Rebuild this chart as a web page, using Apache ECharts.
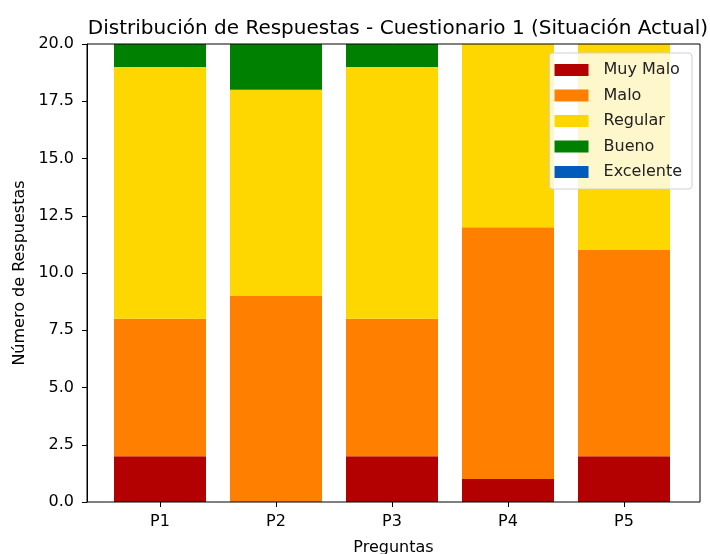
<!DOCTYPE html>
<html>
<head>
<meta charset="utf-8">
<script src="https://cdn.jsdelivr.net/npm/echarts@6/dist/echarts.min.js"></script>
<style>
  html, body { margin: 0; padding: 0; background: #fff; }
  #chart { width: 710px; height: 554px; }
</style>
</head>
<body>
<div id="chart"></div>
<script>
const categories = ['P1', 'P2', 'P3', 'P4', 'P5'];
const muyMalo = [2, 0, 2, 1, 2];
const malo = [6, 9, 6, 11, 9];
const regular = [11, 9, 11, 8, 9];
const bueno = [1, 2, 1, 0, 0];
const excelente = [0, 0, 0, 0, 0];

const font = 'DejaVu Sans';

const makeSeries = (name, values, color) => ({
  name,
  type: 'bar',
  stack: 'total',
  barWidth: 92,
  xAxisIndex: 0,
  yAxisIndex: 0,
  itemStyle: { color },
  data: values,
});

const chart = echarts.init(document.getElementById('chart'));
chart.setOption({
  animation: false,
  textStyle: { fontFamily: font },
  title: {
    text: 'Distribución de Respuestas - Cuestionario 1 (Situación Actual)',
    left: 393,
    textAlign: 'center',
    top: 14,
    textStyle: { fontFamily: font, fontSize: 20, fontWeight: 'normal', color: '#000' },
  },
  grid: [
    // bars: category bands narrower than the frame, like matplotlib margins
    { left: 102, right: 28, top: 44, bottom: 52, outerBoundsMode: 'none', containLabel: false },
    // frame + y axis
    {
      left: 87, right: 10, top: 44, bottom: 52,
      outerBoundsMode: 'none', containLabel: false,
      show: true, borderColor: '#000', borderWidth: 1, backgroundColor: 'transparent', z: 3,
    },
  ],
  legend: {
    orient: 'vertical',
    right: 18,
    top: 53,
    icon: 'rect',
    itemWidth: 34,
    itemHeight: 12,
    itemGap: 7.5,
    padding: [8, 10, 8, 5],
    backgroundColor: 'rgba(255,255,255,0.8)',
    borderColor: '#d0d0d0',
    borderWidth: 1,
    borderRadius: 3,
    textStyle: { fontFamily: font, fontSize: 16, lineHeight: 18, color: '#222', padding: [0, 0, 0, 10] },
    data: ['Muy Malo', 'Malo', 'Regular', 'Bueno', 'Excelente'],
  },
  xAxis: [
    {
      type: 'category',
      gridIndex: 0,
      data: categories,
      axisLine: { show: false },
      axisTick: { show: true, alignWithLabel: true, length: 5, lineStyle: { color: '#000' } },
      axisLabel: { fontFamily: font, fontSize: 16, color: '#000', margin: 12 },
    },
    {
      type: 'value',
      gridIndex: 1,
      min: 0,
      max: 1,
      name: 'Preguntas',
      nameLocation: 'middle',
      nameGap: 38,
      nameTextStyle: { fontFamily: font, fontSize: 16, color: '#000' },
      axisLine: { show: false },
      axisTick: { show: false },
      axisLabel: { show: false },
      splitLine: { show: false },
    },
  ],
  yAxis: [
    {
      type: 'value',
      gridIndex: 0,
      min: 0,
      max: 20,
      show: false,
    },
    {
      type: 'value',
      gridIndex: 1,
      min: 0,
      max: 20,
      interval: 2.5,
      name: 'Número de Respuestas',
      nameLocation: 'middle',
      nameGap: 59,
      nameTextStyle: { fontFamily: font, fontSize: 16, color: '#000' },
      axisLine: { show: true, onZero: false, lineStyle: { color: '#000' } },
      axisTick: { show: true, length: 5, lineStyle: { color: '#000' } },
      axisLabel: {
        formatter: (v) => v.toFixed(1),
        fontFamily: font,
        fontSize: 16,
        color: '#000',
        margin: 13,
      },
      splitLine: { show: false },
    },
  ],
  series: [
    makeSeries('Muy Malo', muyMalo, '#b30000'),
    makeSeries('Malo', malo, '#ff8000'),
    makeSeries('Regular', regular, '#ffd700'),
    makeSeries('Bueno', bueno, '#008000'),
    makeSeries('Excelente', excelente, '#005bbb'),
  ],
});
</script>
</body>
</html>
